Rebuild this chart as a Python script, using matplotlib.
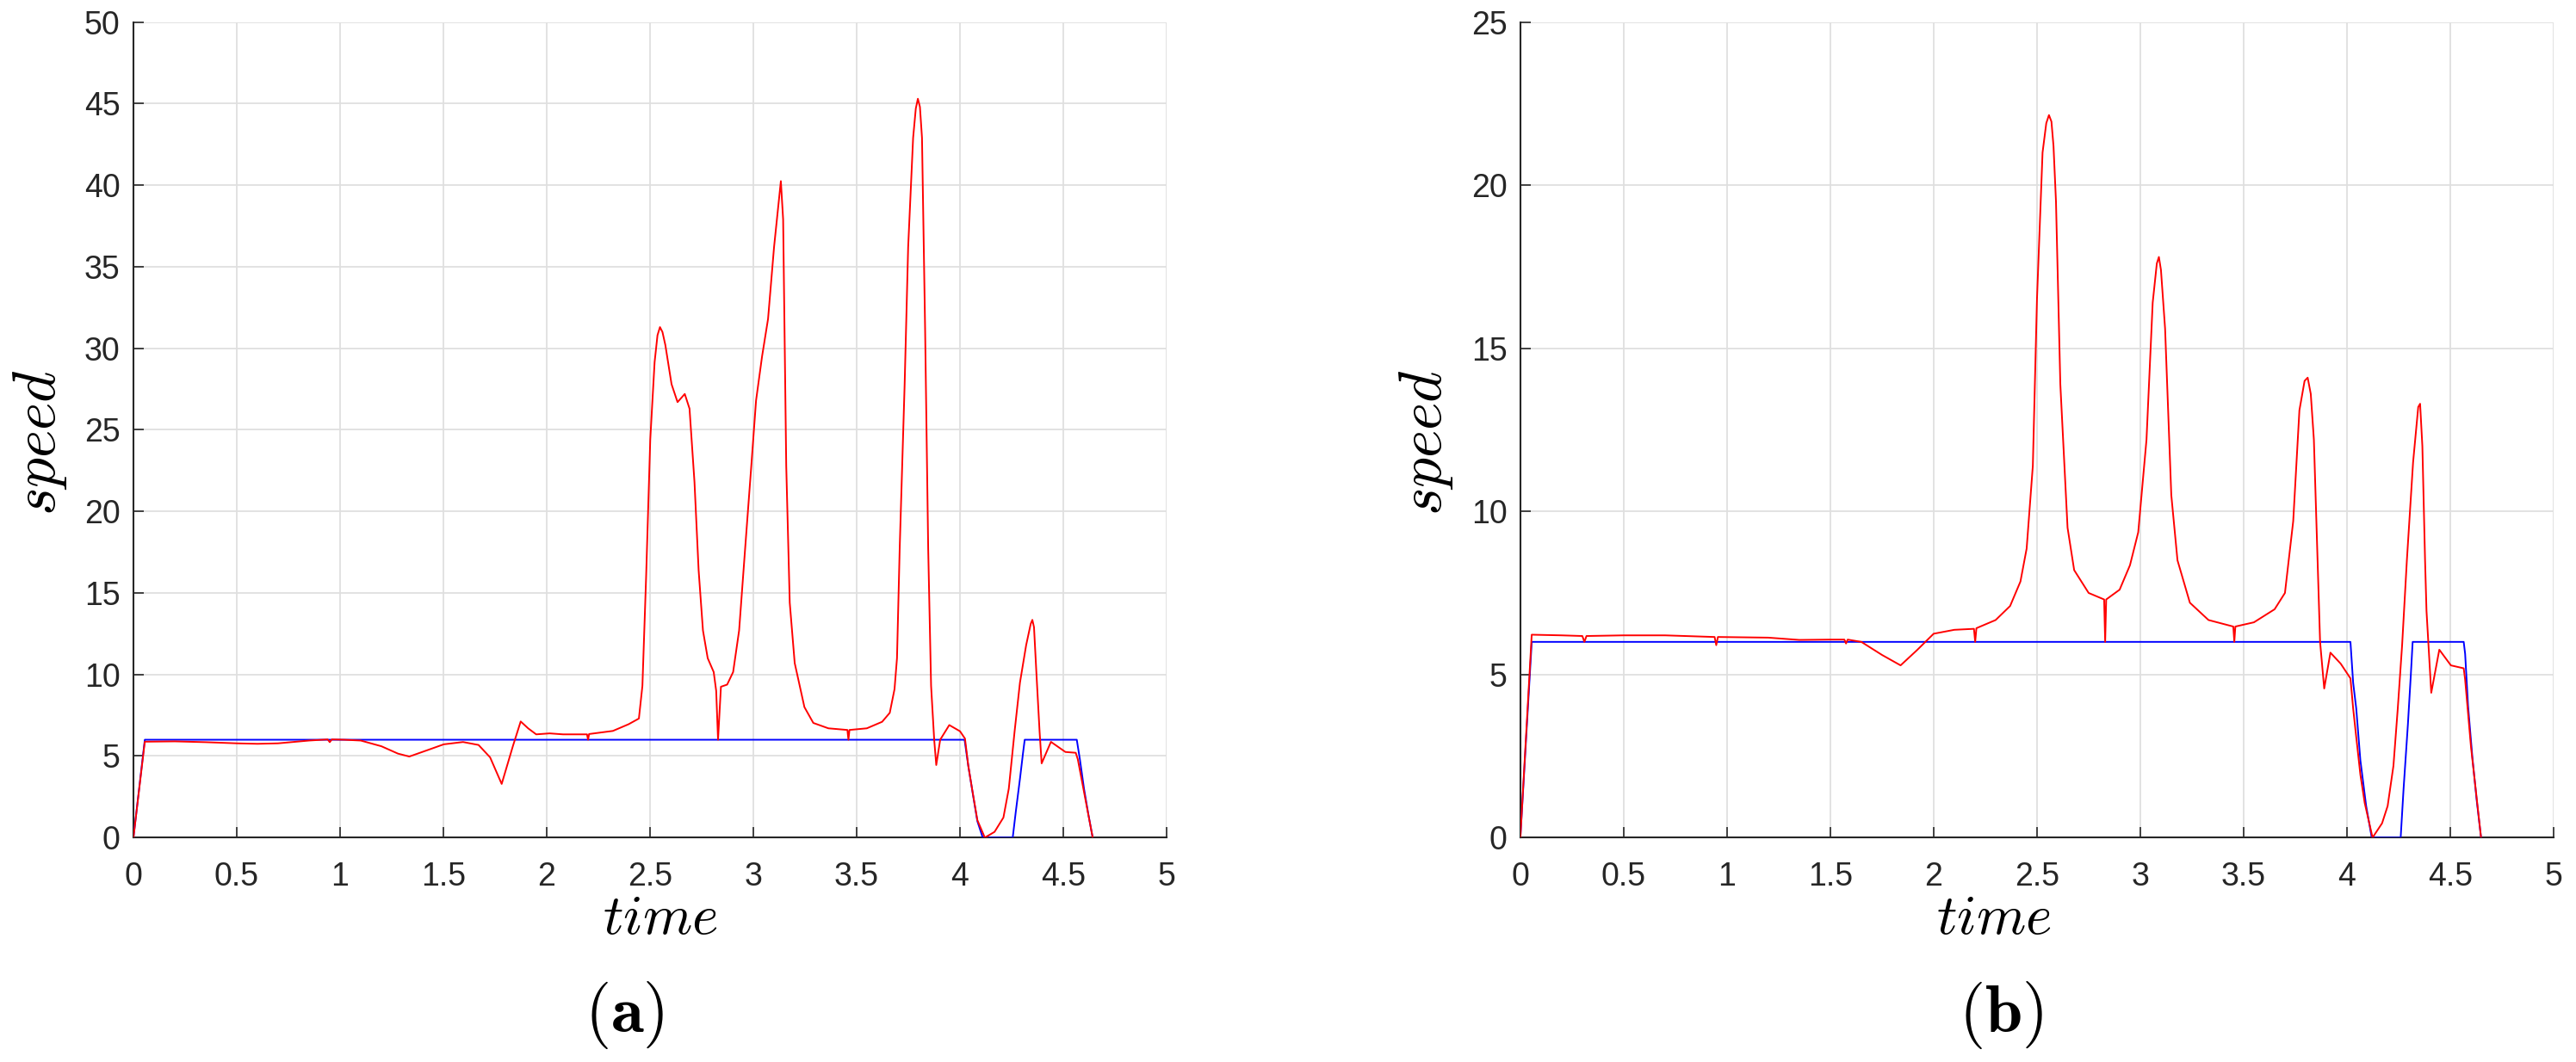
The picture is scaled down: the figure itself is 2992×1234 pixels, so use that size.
import numpy as np
import matplotlib
matplotlib.use('Agg')
import matplotlib.pyplot as plt

plt.rcParams['mathtext.fontset'] = 'cm'
plt.rcParams['font.family'] = ['Liberation Sans', 'DejaVu Sans']

# panel (a): measured speed (red) and reference speed (blue)
t_a_red = [0, 0.055, 0.2, 0.35, 0.5, 0.6, 0.7, 0.85, 0.94, 0.95, 0.96, 1.02, 1.1, 1.2, 1.28,
           1.335, 1.42, 1.502, 1.595, 1.67, 1.726, 1.782, 1.837, 1.874, 1.91, 1.949, 2.014,
           2.079, 2.195, 2.2, 2.205, 2.32, 2.396, 2.446, 2.463, 2.481, 2.501, 2.522, 2.536,
           2.548, 2.56, 2.574, 2.604, 2.633, 2.668, 2.691, 2.715, 2.735, 2.756, 2.779, 2.808,
           2.82, 2.829, 2.843, 2.873, 2.902, 2.931, 2.96, 2.99, 3.013, 3.042, 3.071, 3.1,
           3.133, 3.144, 3.159, 3.176, 3.2, 3.247, 3.29, 3.363, 3.455, 3.46, 3.465, 3.549,
           3.623, 3.66, 3.683, 3.695, 3.708, 3.732, 3.749, 3.773, 3.786, 3.796, 3.806, 3.816,
           3.831, 3.846, 3.86, 3.875, 3.885, 3.904, 3.948, 4.0, 4.024, 4.04, 4.063, 4.084,
           4.12, 4.167, 4.21, 4.236, 4.264, 4.29, 4.32, 4.342, 4.35, 4.358, 4.37, 4.385,
           4.395, 4.44, 4.51, 4.56, 4.57, 4.6, 4.642]
v_a_red = [0, 5.88, 5.9, 5.85, 5.78, 5.75, 5.78, 5.95, 6.02, 5.85, 6.02, 6.0, 5.95, 5.6, 5.15,
           4.97, 5.35, 5.72, 5.86, 5.68, 4.92, 3.29, 5.64, 7.12, 6.7, 6.33, 6.39,
           6.33, 6.33, 6.0, 6.35, 6.54, 6.95, 7.3, 9.3, 16.0, 24.4, 29.15, 30.8,
           31.3, 31.0, 30.2, 27.8, 26.7, 27.2, 26.3, 21.8, 16.4, 12.7, 11.0, 10.15,
           9.0, 6.0, 9.25, 9.38, 10.15, 12.7, 17.7, 22.8, 26.8, 29.5, 31.8, 36.2,
           40.25, 37.9, 22.8, 14.4, 10.7, 8.0, 7.03, 6.7, 6.6, 6.0, 6.6, 6.7,
           7.1, 7.65, 9.1, 11.0, 17.7, 27.8, 36.2, 42.9, 44.7, 45.3, 44.8, 42.9,
           31.2, 17.7, 9.3, 6.0, 4.45, 6.0, 6.9, 6.52, 6.07, 4.4, 2.64, 1.07,
           0, 0.35, 1.23, 3.0, 6.5, 9.5, 11.8, 13.1, 13.35, 12.9, 10.0, 6.5,
           4.55, 5.87, 5.25, 5.2, 4.8, 2.8, 0]

t_a_blue = [0, 0.055, 4.022, 4.04, 4.063, 4.084, 4.11, 4.255, 4.27, 4.29, 4.305, 4.313,
            4.565, 4.58, 4.6, 4.62, 4.642]
v_a_blue = [0, 6, 6, 4.4, 2.6, 1.0, 0, 0, 1.6, 3.6, 5.2, 6,
            6, 4.8, 3.0, 1.5, 0]

# panel (b)
t_b_red = [0, 0.055, 0.2, 0.3, 0.31, 0.32, 0.5, 0.7, 0.94, 0.948, 0.956, 1.2, 1.35, 1.5,
           1.568, 1.576, 1.584, 1.65, 1.75, 1.84, 1.92, 2.0, 2.1, 2.195, 2.201, 2.207,
           2.3, 2.37, 2.42, 2.45, 2.48, 2.5, 2.527, 2.545, 2.558, 2.57, 2.58, 2.592, 2.613,
           2.648, 2.68, 2.75, 2.825, 2.83, 2.835, 2.9, 2.95, 2.99, 3.03, 3.06, 3.08,
           3.09, 3.1, 3.12, 3.15, 3.18, 3.24, 3.33, 3.45, 3.455, 3.46, 3.55, 3.65,
           3.7, 3.74, 3.77, 3.795, 3.81, 3.825, 3.84, 3.87, 3.89, 3.92, 3.97, 4.017,
           4.03, 4.045, 4.065, 4.086, 4.124, 4.17, 4.197, 4.225, 4.246, 4.267, 4.29, 4.32,
           4.345, 4.354, 4.365, 4.378, 4.385, 4.408, 4.447, 4.503, 4.565, 4.572, 4.6, 4.649]
v_b_red = [0, 6.22, 6.2, 6.18, 6.0, 6.18, 6.2, 6.2, 6.15, 5.9, 6.15, 6.13, 6.06, 6.07,
           6.07, 5.95, 6.07, 6.0, 5.6, 5.28, 5.75, 6.25, 6.37, 6.4, 6.0, 6.42,
           6.67, 7.1, 7.85, 8.86, 11.4, 16.5, 21.0, 21.9, 22.15, 21.95, 21.2, 19.5, 13.9,
           9.5, 8.2, 7.5, 7.3, 6.0, 7.3, 7.6, 8.35, 9.36, 12.2, 16.4, 17.6,
           17.8, 17.4, 15.6, 10.5, 8.5, 7.2, 6.67, 6.47, 6.0, 6.47, 6.6, 7.0,
           7.5, 9.7, 13.1, 14.0, 14.1, 13.6, 12.2, 6.0, 4.57, 5.67, 5.33, 4.88,
           3.96, 3.08, 1.93, 1.06, 0, 0.44, 0.97, 2.2, 3.96, 5.9, 8.5, 11.5,
           13.2, 13.3, 12.0, 8.5, 6.95, 4.44, 5.76, 5.28, 5.19, 4.84, 2.8, 0]

t_b_blue = [0, 0.055, 4.017, 4.03, 4.045, 4.065, 4.093, 4.12, 4.26, 4.274, 4.295, 4.309,
            4.318, 4.565, 4.572, 4.586, 4.607, 4.628, 4.649]
v_b_blue = [0, 6, 6, 4.75, 3.96, 2.37, 0.97, 0, 0, 1.49, 3.47, 4.97,
            6, 6, 5.63, 4.05, 2.46, 1.14, 0]

x_ticks = [0, 0.5, 1, 1.5, 2, 2.5, 3, 3.5, 4, 4.5, 5]
x_tick_labels = ['0', '0.5', '1', '1.5', '2', '2.5', '3', '3.5', '4', '4.5', '5']
y_ticks_a = [0, 5, 10, 15, 20, 25, 30, 35, 40, 45, 50]
y_ticks_b = [0, 5, 10, 15, 20, 25]

fig = plt.figure(figsize=(29.92, 12.34), dpi=100)
ax_a = fig.add_axes([0.0518, 0.2113, 0.4011, 0.7679])
ax_b = fig.add_axes([0.5902, 0.2113, 0.4011, 0.7679])

panels = [
    (ax_a, t_a_red, v_a_red, t_a_blue, v_a_blue, y_ticks_a, 50),
    (ax_b, t_b_red, v_b_red, t_b_blue, v_b_blue, y_ticks_b, 25),
]
for ax, tr, vr, tb, vb, yt, ymax in panels:
    ax.plot(tb, vb, color='#0000ff', lw=1.4, zorder=3)
    ax.plot(tr, vr, color='#ff0000', lw=1.4, zorder=4)
    ax.set_xlim(0, 5)
    ax.set_ylim(0, ymax)
    ax.set_xticks(x_ticks)
    ax.set_xticklabels(x_tick_labels)
    ax.set_yticks(yt)
    ax.grid(True, color='#dfdfdf', lw=1.3)
    ax.set_axisbelow(True)
    for side in ['top', 'right']:
        ax.spines[side].set_visible(False)
    for side in ['left', 'bottom']:
        ax.spines[side].set_color('#262626')
        ax.spines[side].set_linewidth(1.5)
    ax.tick_params(direction='in', length=8.6, width=1.2, colors='#262626',
                   labelsize=27)
    ax.tick_params(axis='x', pad=20)
    ax.tick_params(axis='y', pad=11)

# axis labels and panel letters
fig.text(0.2563, 0.1207, r'$time$', fontsize=47, ha='center', va='baseline')
fig.text(0.774, 0.1207, r'$time$', fontsize=47, ha='center', va='baseline')
fig.text(0.0157, 0.5835, r'$speed$', fontsize=50, ha='center', va='center', rotation=90)
fig.text(0.5535, 0.5835, r'$speed$', fontsize=50, ha='center', va='center', rotation=90)
fig.text(0.2423, 0.0438, r'$(\mathbf{a})$', fontsize=56, ha='center', va='center')
fig.text(0.7767, 0.0438, r'$(\mathbf{b})$', fontsize=56, ha='center', va='center')

fig.savefig('out.png', dpi=100)
